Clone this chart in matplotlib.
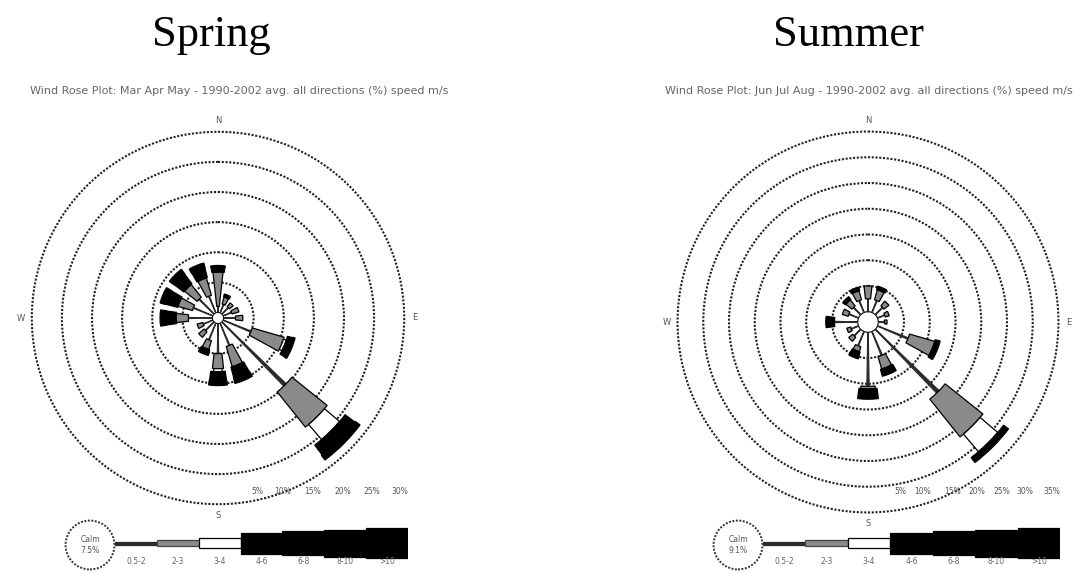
import matplotlib
matplotlib.use('Agg')
import matplotlib.pyplot as plt
import numpy as np
from matplotlib.patches import Circle

W, H = 1080, 573

# 16 compass directions, clockwise from north
directions = ['N', 'NNE', 'NE', 'ENE', 'E', 'ESE', 'SE', 'SSE',
              'S', 'SSW', 'SW', 'WSW', 'W', 'WNW', 'NW', 'NNW']
speed_classes = ['0.5-2', '2-3', '3-4', '4-6', '6-8', '8-10', '>10']

# Spring frequencies (%) per speed class
spr_1 = [1.0, 1.5, 1.5, 1.5, 2.0, 5.0, 14.8, 4.0, 5.0, 3.0, 2.0, 1.7, 4.0, 3.5, 3.5, 3.0]
spr_2 = [5.7, 1.2, 0.8, 1.2, 1.2, 5.5, 7.5, 3.5, 2.5, 1.5, 1.2, 1.0, 2.0, 2.5, 2.7, 3.0]
spr_3 = [0.0, 0.0, 0.0, 0.0, 0.0, 0.5, 3.3, 0.0, 0.5, 0.0, 0.0, 0.0, 0.0, 0.0, 0.0, 0.0]
spr_4 = [0.8, 0.5, 0.0, 0.0, 0.0, 0.9, 2.0, 1.8, 1.5, 0.7, 0.0, 0.0, 1.7, 2.0, 2.0, 1.6]
spr_5 = [0.3, 0.0, 0.0, 0.0, 0.0, 0.4, 1.0, 1.0, 0.8, 0.3, 0.0, 0.0, 1.0, 1.0, 1.0, 0.9]
spr_6 = [0.0, 0.0, 0.0, 0.0, 0.0, 0.0, 0.0, 0.0, 0.0, 0.0, 0.0, 0.0, 0.0, 0.0, 0.0, 0.0]
spr_7 = [0.0, 0.0, 0.0, 0.0, 0.0, 0.0, 0.0, 0.0, 0.0, 0.0, 0.0, 0.0, 0.0, 0.0, 0.0, 0.0]
spr_rings = [5, 10, 15, 20, 25, 30]
spr_calm = 7.5

# Summer frequencies (%) per speed class
sum_1 = [2.5, 2.5, 2.0, 1.5, 1.2, 6.4, 17.2, 5.0, 10.5, 3.0, 1.8, 1.5, 4.5, 2.0, 2.0, 2.5]
sum_2 = [2.5, 2.0, 1.2, 0.8, 0.5, 5.1, 9.4, 2.5, 0.5, 1.0, 1.0, 0.8, 0.0, 1.2, 1.5, 1.8]
sum_3 = [0.0, 0.0, 0.0, 0.0, 0.0, 0.0, 4.5, 0.0, 0.0, 0.0, 0.0, 0.0, 0.0, 0.0, 0.0, 0.0]
sum_4 = [0.0, 0.7, 0.0, 0.0, 0.0, 1.0, 1.2, 1.4, 2.0, 1.4, 0.0, 0.0, 1.7, 0.0, 0.7, 0.7]
sum_5 = [0.0, 0.0, 0.0, 0.0, 0.0, 0.0, 0.0, 0.0, 0.0, 0.0, 0.0, 0.0, 0.0, 0.0, 0.0, 0.0]
sum_6 = [0.0, 0.0, 0.0, 0.0, 0.0, 0.0, 0.0, 0.0, 0.0, 0.0, 0.0, 0.0, 0.0, 0.0, 0.0, 0.0]
sum_7 = [0.0, 0.0, 0.0, 0.0, 0.0, 0.0, 0.0, 0.0, 0.0, 0.0, 0.0, 0.0, 0.0, 0.0, 0.0, 0.0]
sum_rings = [5, 10, 15, 20, 25, 30, 35]
sum_calm = 9.1

# look of each speed class (bar angular width, face colour)
widths = [0.035, 0.22, 0.16, 0.27, 0.28, 0.29, 0.30]
faces = ['#2b2b2b', '#8a8a8a', 'white', 'black', 'black', 'black', 'black']
leg_heights = [3, 6, 10, 21, 24, 27, 30]

theta = np.deg2rad(np.arange(16) * 22.5)
dots = (0, (1, 0.8))

fig = plt.figure(figsize=(W / 100, H / 100), dpi=100)
fig.patch.set_facecolor('white')


def px_rect(x0, y0, x1, y1):
    return [x0 / W, 1 - y1 / H, (x1 - x0) / W, (y1 - y0) / H]


def rose(rect, series, rings, origin):
    ax = fig.add_axes(rect, projection='polar')
    ax.set_theta_zero_location('N')
    ax.set_theta_direction(-1)
    bottom = np.zeros(16)
    for vals, w, fc in zip(series, widths, faces):
        vals = np.array(vals)
        m = vals > 0
        edge = fc if fc == '#2b2b2b' else 'black'
        ax.bar(theta[m], vals[m], width=w, bottom=bottom[m], color=fc,
               edgecolor=edge, linewidth=0.9, zorder=3)
        bottom += vals
    ax.set_rorigin(-origin)
    ax.set_rlim(0, rings[-1] + 0.3)
    ax.set_rticks(rings)
    ax.set_yticklabels([])
    ax.yaxis.grid(True, linestyle=dots, color='#222222', linewidth=1.5)
    ax.xaxis.grid(False)
    ax.spines['polar'].set_visible(False)
    ax.set_xticks(np.deg2rad([0, 90, 180, 270]))
    ax.set_xticklabels(['N', 'E', 'S', 'W'])
    ax.tick_params(axis='x', labelsize=6, colors='#555555', pad=-4)
    return ax


def legend(x0, x1, calm_x, calm, ring_x, ring_labels):
    cax = fig.add_axes(px_rect(calm_x - 26, 519, calm_x + 26, 571))
    cax.set_xlim(0, 1)
    cax.set_ylim(0, 1)
    cax.axis('off')
    cax.add_patch(Circle((0.5, 0.5), 0.47, fill=False, linestyle=dots,
                         linewidth=1.4, edgecolor='#333333'))
    cax.text(0.5, 0.5, 'Calm\n%.1f%%' % calm, ha='center', va='center',
             fontsize=5.5, color='#555555', linespacing=1.4)

    lax = fig.add_axes(px_rect(x0, 523, x1, 563))
    hts = np.array(leg_heights, dtype=float)
    lax.bar(np.arange(7), hts, bottom=-hts / 2, width=1, align='edge',
            color=faces, edgecolor=['#2b2b2b', '#444444', 'black', 'black', 'black', 'black', 'black'],
            linewidth=0.9)
    lax.set_xlim(0, 7)
    lax.set_ylim(-20, 20)
    lax.axis('off')
    for i, lab in enumerate(speed_classes):
        lax.text(i + 0.5, -14.5, lab, ha='center', va='top', fontsize=5.5,
                 color='#666666', clip_on=False)

    for x, lab in zip(ring_x, ring_labels):
        fig.text(x / W, 1 - 492 / H, lab, ha='center', va='center',
                 fontsize=5.5, color='#555555')


spring = [spr_1, spr_2, spr_3, spr_4, spr_5, spr_6, spr_7]
summer = [sum_1, sum_2, sum_3, sum_4, sum_5, sum_6, sum_7]

rose(px_rect(30, 130, 406, 506), spring, spr_rings, 0.92)
rose(px_rect(676, 130, 1060, 514), summer, sum_rings, 2.0)

legend(115, 408, 90, spr_calm, [257, 283, 313, 343, 372, 400],
       ['%d%%' % r for r in spr_rings])
legend(763, 1060, 738, sum_calm, [900, 923, 953, 977, 1002, 1025, 1052],
       ['%d%%' % r for r in sum_rings])

fig.text(211 / W, 1 - 35 / H, 'Spring', ha='center', va='center',
         fontsize=32, family='Liberation Serif')
fig.text(848 / W, 1 - 35 / H, 'Summer', ha='center', va='center',
         fontsize=32, family='Liberation Serif')

fig.text(30 / W, 1 - 91 / H,
         'Wind Rose Plot: Mar Apr May - 1990-2002 avg. all directions (%) speed m/s',
         ha='left', va='center', fontsize=8, color='#666666')
fig.text(665 / W, 1 - 91 / H,
         'Wind Rose Plot: Jun Jul Aug - 1990-2002 avg. all directions (%) speed m/s',
         ha='left', va='center', fontsize=8, color='#666666')

fig.savefig('out.png', dpi=100, facecolor='white')
